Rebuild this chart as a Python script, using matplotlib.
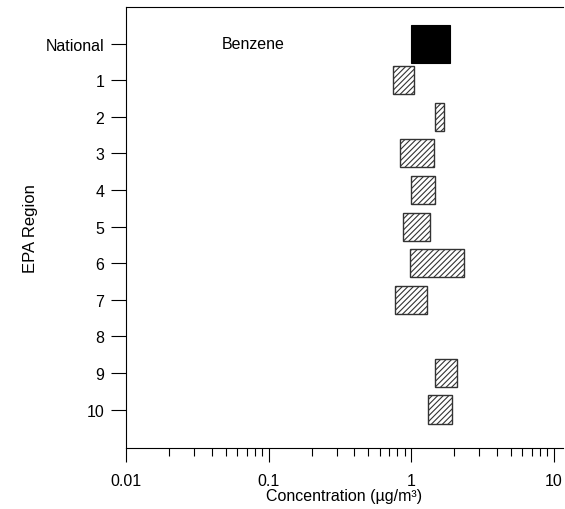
import matplotlib
matplotlib.use("Agg")
import matplotlib.pyplot as plt
from matplotlib.ticker import LogLocator, NullFormatter, FixedLocator, FixedFormatter

plt.rcParams['font.family'] = ['Liberation Sans', 'DejaVu Sans']
plt.rcParams['hatch.linewidth'] = 0.8

# Benzene concentration ranges (µg/m³) by EPA region
regions = ["National", "1", "2", "3", "4", "5", "6", "7", "8", "9", "10"]
low = [0.99, 0.75, 1.46, 0.84, 0.99, 0.88, 0.98, 0.77, None, 1.46, 1.32]
high = [1.88, 1.04, 1.70, 1.45, 1.46, 1.36, 2.35, 1.29, None, 2.09, 1.92]

FS = 11.5

fig = plt.figure(figsize=(5.65, 5.1), dpi=100)
ax = fig.add_axes([0.223, 0.1196, 0.773, 0.8647])

for i, (lo, hi) in enumerate(zip(low, high)):
    if lo is None:
        continue
    if i == 0:
        ax.barh(i, hi - lo, left=lo, height=1.04, color="black",
                edgecolor="black", linewidth=0.8)
    else:
        ax.barh(i, hi - lo, left=lo, height=0.77, facecolor="white",
                edgecolor="#333333", hatch="//////", linewidth=1.0)

ax.set_xscale("log")
ax.set_xlim(0.01, 11.54)
ax.set_ylim(11.05, -1.0)

ax.xaxis.set_major_locator(FixedLocator([0.01, 0.1, 1, 10]))
ax.xaxis.set_major_formatter(FixedFormatter(["0.01", "0.1", "1", "10"]))
ax.xaxis.set_minor_locator(LogLocator(base=10, subs=range(2, 10)))
ax.xaxis.set_minor_formatter(NullFormatter())

ax.set_yticks(range(len(regions)))
ax.set_yticklabels(regions)

ax.spines["right"].set_visible(False)
for s in ("left", "top", "bottom"):
    ax.spines[s].set_linewidth(0.8)

ax.tick_params(axis="x", which="major", length=10, width=0.8, direction="out",
               labelsize=FS, pad=8)
ax.tick_params(axis="x", which="minor", length=5.5, width=0.8, direction="out")
ax.tick_params(axis="y", which="major", length=10.5, width=0.8, direction="out",
               labelsize=FS, pad=5)
ax.tick_params(axis="y", which="minor", left=False)

ax.text(0.047, 0, "Benzene", fontsize=FS, va="center", ha="left")

ax.set_xlabel("Concentration (µg/m³)", fontsize=FS, labelpad=0)
ax.set_ylabel("EPA Region", fontsize=FS + 0.5)
ax.yaxis.set_label_coords(-0.202, 0.5)

fig.savefig("out.png", dpi=100)
